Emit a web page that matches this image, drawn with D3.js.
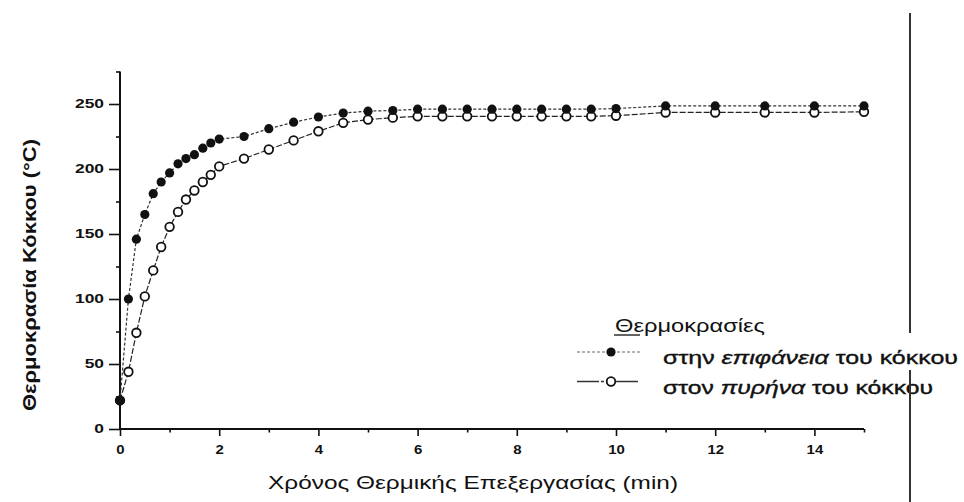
<!DOCTYPE html>
<html>
<head>
<meta charset="utf-8">
<script src="https://cdn.jsdelivr.net/npm/d3@7"></script>
<style>
  html, body { margin: 0; padding: 0; background: #fff; }
  svg { display: block; }
  text { font-family: "Liberation Sans", Arial, sans-serif; fill: #111; }
</style>
</head>
<body>
<svg id="chart" width="964" height="502"></svg>
<script>
// ---- data ----
const times = [0, 0.17, 0.33, 0.5, 0.67, 0.83, 1.0, 1.17, 1.33, 1.5, 1.67, 1.83, 2.0,
               2.5, 3.0, 3.5, 4.0, 4.5, 5.0, 5.5, 6.0, 6.5, 7.0, 7.5, 8.0, 8.5, 9.0, 9.5, 10.0,
               11, 12, 13, 14, 15];
const surfaceTemp = [22, 100, 146, 165, 181, 190, 197, 204, 208, 211, 216, 220, 223,
                     225, 231, 236, 240, 243, 244.5, 245, 246, 246, 246, 246, 246, 246, 246, 246, 246.5,
                     248.5, 248.5, 248.5, 248.5, 248.5];
const coreTemp = [22, 44, 74, 102, 122, 140, 155.5, 167, 176.5, 183.5, 190, 195.5, 202,
                  208, 215, 222, 229, 235.5, 238, 239.5, 240.5, 240.5, 240.5, 240.5, 240.5, 240.5, 240.5, 240.5, 241,
                  243.5, 243.5, 243.5, 243.5, 244];
const xMajorTicks = [0, 2, 4, 6, 8, 10, 12, 14];
const xMinorTicks = [1, 3, 5, 7, 9, 11, 13, 15];
const yMajorTicks = [0, 50, 100, 150, 200, 250];
const yMinorTicks = [25, 75, 125, 175, 225, 275];
const xTitle = "Χρόνος Θερμικής Επεξεργασίας (min)";
const yTitle = "Θερμοκρασία Κόκκου (°C)";
const legendTitle = "Θερμοκρασίες";

const svg = d3.select("#chart");
const x = d3.scaleLinear().domain([0, 15]).range([120, 864]);
const y = d3.scaleLinear().domain([0, 275]).range([429, 71.5]);

function stretch(sel, factor) {
  sel.each(function () {
    const w = this.getComputedTextLength();
    this.setAttribute("textLength", w * factor);
    this.setAttribute("lengthAdjust", "spacingAndGlyphs");
  });
}

// ---- axes ----
const gx = svg.append("g").attr("transform", `translate(0,${y(0)})`)
  .call(d3.axisBottom(x).tickValues(xMajorTicks).tickSize(7).tickSizeOuter(0).tickPadding(9).tickFormat(d3.format("d")));
gx.select(".domain").remove();
gx.selectAll("line").attr("stroke", "#111").attr("stroke-width", 1.6);
gx.selectAll("text").attr("font-size", 13).attr("font-weight", "bold").attr("fill", "#222");
stretch(gx.selectAll("text"), 1.15);

const gxm = svg.append("g").attr("transform", `translate(0,${y(0)})`)
  .call(d3.axisBottom(x).tickValues(xMinorTicks).tickSize(3.5).tickSizeOuter(0).tickFormat(""));
gxm.select(".domain").remove();
gxm.selectAll("line").attr("stroke", "#111").attr("stroke-width", 1.6);

const gy = svg.append("g").attr("transform", `translate(${x(0)},0)`)
  .call(d3.axisLeft(y).tickValues(yMajorTicks).tickSize(11).tickSizeOuter(0).tickPadding(5).tickFormat(d3.format("d")));
gy.select(".domain").remove();
gy.selectAll("line").attr("stroke", "#111").attr("stroke-width", 1.6);
gy.selectAll("text").attr("font-size", 12).attr("font-weight", "bold").attr("fill", "#222");
stretch(gy.selectAll("text"), 1.45);

const gym = svg.append("g").attr("transform", `translate(${x(0)},0)`)
  .call(d3.axisLeft(y).tickValues(yMinorTicks).tickSize(4).tickSizeOuter(0).tickFormat(""));
gym.select(".domain").remove();
gym.selectAll("line").attr("stroke", "#111").attr("stroke-width", 1.6);

// axis lines
svg.append("line").attr("x1", x(0)).attr("x2", x(0)).attr("y1", y(275)).attr("y2", y(0) + 1)
  .attr("stroke", "#111").attr("stroke-width", 2);
svg.append("line").attr("x1", x(0)).attr("x2", x(15)).attr("y1", y(0)).attr("y2", y(0))
  .attr("stroke", "#111").attr("stroke-width", 2);

// ---- axis titles ----
const xt = svg.append("text").attr("x", 473).attr("y", 489).attr("text-anchor", "middle")
  .attr("font-size", 18).text(xTitle);
xt.attr("textLength", 410).attr("lengthAdjust", "spacingAndGlyphs");

const yt = svg.append("text").attr("transform", "translate(36,275) rotate(-90)")
  .attr("text-anchor", "middle").attr("font-size", 18).attr("font-weight", "bold").text(yTitle);
yt.attr("textLength", 272).attr("lengthAdjust", "spacingAndGlyphs");

// ---- series ----
const data = times.map((t, i) => ({ t, s: surfaceTemp[i], c: coreTemp[i] }));
const lineCore = d3.line().x(d => x(d.t)).y(d => y(d.c));
const lineSurf = d3.line().x(d => x(d.t)).y(d => y(d.s));

svg.append("path").datum(data).attr("d", lineCore).attr("fill", "none")
  .attr("stroke", "#222").attr("stroke-width", 1.2).attr("stroke-dasharray", "6,2");
svg.append("g").selectAll("circle").data(data).join("circle")
  .attr("cx", d => x(d.t)).attr("cy", d => y(d.c)).attr("r", 4.3)
  .attr("fill", "#fff").attr("stroke", "#111").attr("stroke-width", 1.8);

svg.append("path").datum(data).attr("d", lineSurf).attr("fill", "none")
  .attr("stroke", "#333").attr("stroke-width", 1.2).attr("stroke-dasharray", "3,2");
svg.append("g").selectAll("circle").data(data).join("circle")
  .attr("cx", d => x(d.t)).attr("cy", d => y(d.s)).attr("r", 4.6)
  .attr("fill", "#111");

// ---- legend ----
const lt = svg.append("text").attr("x", 615).attr("y", 332).attr("font-size", 18).text(legendTitle);
lt.attr("textLength", 150).attr("lengthAdjust", "spacingAndGlyphs");
svg.append("line").attr("x1", 614).attr("x2", 640).attr("y1", 335).attr("y2", 335)
  .attr("stroke", "#222").attr("stroke-width", 1.4);

svg.append("line").attr("x1", 577).attr("x2", 640).attr("y1", 352).attr("y2", 352)
  .attr("stroke", "#666").attr("stroke-width", 1.2).attr("stroke-dasharray", "3,2");
svg.append("circle").attr("cx", 611).attr("cy", 352).attr("r", 4.6).attr("fill", "#111");
svg.append("line").attr("x1", 577).attr("x2", 640).attr("y1", 381.5).attr("y2", 381.5)
  .attr("stroke", "#333").attr("stroke-width", 1.4).attr("stroke-dasharray", "22,2,3,2,3,2,3,2");
svg.append("circle").attr("cx", 611).attr("cy", 381.5).attr("r", 4.3)
  .attr("fill", "#fff").attr("stroke", "#111").attr("stroke-width", 1.8);

const l1 = svg.append("text").attr("x", 663).attr("y", 364).attr("font-size", 18)
  .attr("stroke", "#111").attr("stroke-width", 0.35);
l1.append("tspan").text("στην ");
l1.append("tspan").attr("font-style", "italic").text("επιφάνεια");
l1.append("tspan").text(" του κόκκου");
l1.attr("textLength", 295).attr("lengthAdjust", "spacingAndGlyphs");

const l2 = svg.append("text").attr("x", 663).attr("y", 394).attr("font-size", 18)
  .attr("stroke", "#111").attr("stroke-width", 0.35);
l2.append("tspan").text("στον ");
l2.append("tspan").attr("font-style", "italic").text("πυρήνα");
l2.append("tspan").text(" του κόκκου");
l2.attr("textLength", 270).attr("lengthAdjust", "spacingAndGlyphs");

// ---- right-hand vertical rule ----
svg.append("line").attr("x1", 910).attr("x2", 910).attr("y1", 13).attr("y2", 333)
  .attr("stroke", "#333").attr("stroke-width", 2);
svg.append("line").attr("x1", 910).attr("x2", 910).attr("y1", 370).attr("y2", 502)
  .attr("stroke", "#333").attr("stroke-width", 2);
</script>
</body>
</html>
